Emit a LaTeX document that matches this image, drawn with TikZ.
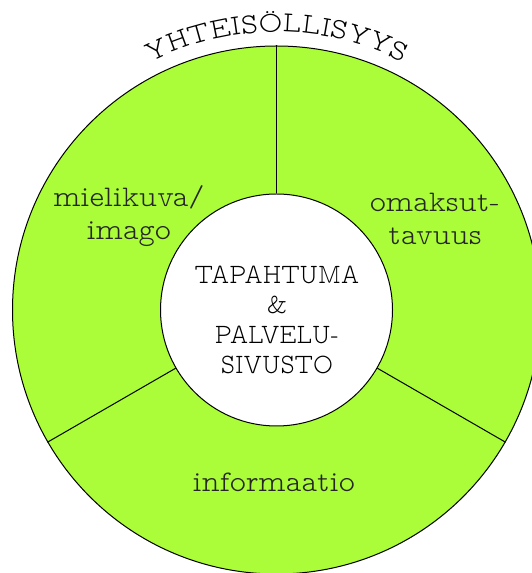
\documentclass[tikz,border=0pt]{standalone}
\usetikzlibrary{decorations.text}
\definecolor{lime}{RGB}{170,253,56}
\newcommand\twfont{\fontfamily{lmvtt}\fontseries{l}\selectfont}
\tikzset{
  ring/.style={circle, draw=black, line width=1pt, inner sep=0pt},
  divider/.style={draw=black, line width=1pt},
  label/.style={align=center, text=black!85, xscale=1.03, transform shape,
    font=\twfont\fontsize{30}{33}\selectfont},
  hub/.style={align=center, text=black, xscale=0.87, transform shape,
    font=\twfont\fontsize{28}{30}\selectfont}
}
\begin{document}
\begin{tikzpicture}[x=1pt,y=1pt]
\useasboundingbox (0,0) rectangle (532,573);
\coordinate (c) at (276.5,263);
\node[ring, fill=lime, minimum size=528pt] (outer) at (c) {};
\node[ring, fill=white, minimum size=232pt] (inner) at (c) {};
\draw[divider] (inner.90) -- (outer.90);
\draw[divider] (inner.210) -- (outer.210);
\draw[divider] (inner.330) -- (outer.330);
\node[hub] (hubtext) at (277,253) {TAPAHTUMA\\\&\\PALVELU-\\SIVUSTO};
\node[label] (mieli) at (129,357) {mielikuva/\\imago};
\node[label] (omak) at (435,354) {omaksut-\\tavuus};
\node[label] (info) at (274,91) {informaatio};
\path[decorate, decoration={text along path, text align=center,
  text={|\twfont\fontsize{29}{29}\selectfont|YHTEISÖLLISYYS}}]
  (c) ++(125:278) arc[start angle=125, end angle=55, radius=278];
\end{tikzpicture}
\end{document}
